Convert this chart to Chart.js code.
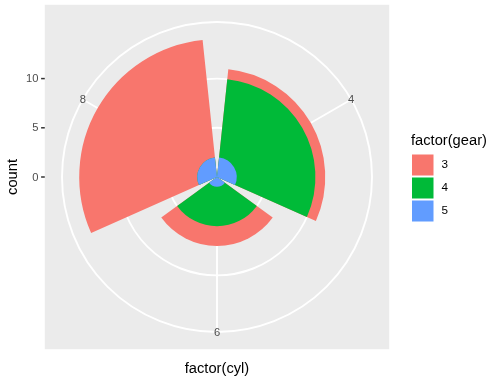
<!DOCTYPE html>
<html>
<head>
<meta charset="utf-8">
<script src="https://cdn.jsdelivr.net/npm/chart.js@4/dist/chart.umd.min.js"></script>
<style>
  html, body { margin: 0; padding: 0; background: #FFFFFF; }
  #c { display: block; }
</style>
</head>
<body>
<canvas id="c" width="491" height="381"></canvas>
<script>
// ---------- data ----------
const categories = ['4', '6', '8'];          // factor(cyl)
const gearLabels = ['3', '4', '5'];          // factor(gear)
const gear3 = [1, 2, 12];
const gear4 = [8, 4, 0];
const gear5 = [2, 1, 2];
const rTickValues = [0, 5, 10];              // count axis ticks
const xTitle = 'factor(cyl)';
const yTitle = 'count';
const legendTitle = 'factor(gear)';

// ---------- styling ----------
const gearColors = ['#F8766D', '#00BA38', '#619CFF'];
const FONT = '"Liberation Sans", Arial, Helvetica, sans-serif';
const barWidth = 0.9;           // ggplot default bar width
const gridColor = '#FFFFFF';
const gridWidth = 1.9;

// stacked radii (gear 3 outermost, as ggplot stacks)
const cum5 = gear5.slice();
const cum4 = gear5.map((v, i) => v + gear4[i]);
const cum3 = cum4.map((v, i) => v + gear3[i]);
const rDataMax = Math.max(...cum3);
const rOuter = rDataMax * 0.45 / 0.4;   // ggplot outer circle at 0.45 vs data at 0.4

const sector = 360 / categories.length;
const barAngle = sector * barWidth;
const gapAngle = (sector - barAngle) / 2;

// each category -> [gap, bar, gap]
function expand(vals) {
  const out = [];
  vals.forEach(v => { out.push(0, v, 0); });
  return out;
}
const elemAngles = [];
categories.forEach(() => { elemAngles.push(gapAngle, barAngle, gapAngle); });

function makeDataset(vals, color) {
  return {
    data: expand(vals),
    rAxisID: 'r',
    angle: (ctx) => elemAngles[ctx.dataIndex],
    backgroundColor: (ctx) => (ctx.dataIndex % 3 === 1 ? color : 'rgba(0,0,0,0)'),
    borderWidth: 0,
    hoverBorderWidth: 0
  };
}

const ggPlugin = {
  id: 'ggDecor',
  beforeDraw(chart) {
    const ctx = chart.ctx;
    const s = chart.scales.rGrid;
    const half = s.drawingArea / 0.9;
    ctx.save();
    ctx.fillStyle = '#FFFFFF';
    ctx.fillRect(0, 0, chart.width, chart.height);
    ctx.fillStyle = '#EBEBEB';
    ctx.fillRect(s.xCenter - half, s.yCenter - half, 2 * half, 2 * half);
    ctx.restore();
  },
  afterDraw(chart) {
    const ctx = chart.ctx;
    const s = chart.scales.rGrid;
    const half = s.drawingArea / 0.9;
    const panelLeft = s.xCenter - half;
    const panelBottom = s.yCenter + half;
    ctx.save();

    // theta labels on the outer circle
    ctx.font = '11.2px ' + FONT;
    ctx.fillStyle = '#4D4D4D';
    ctx.textAlign = 'center';
    ctx.textBaseline = 'middle';
    categories.forEach((lab, i) => {
      const p = s.getPointPosition(i, s.drawingArea);
      ctx.fillText(lab, p.x, p.y + 0.5);
    });

    // r axis ticks + labels on the left
    const tickLen = 3.67;
    ctx.strokeStyle = '#333333';
    ctx.lineWidth = 1.5;
    ctx.textAlign = 'right';
    rTickValues.forEach(v => {
      const y = s.yCenter - s.getDistanceFromCenterForValue(v);
      ctx.beginPath();
      ctx.moveTo(panelLeft - tickLen, y);
      ctx.lineTo(panelLeft, y);
      ctx.stroke();
      ctx.fillText(String(v), panelLeft - tickLen - 2.6, y + 0.5);
    });

    // axis titles
    ctx.fillStyle = '#000000';
    ctx.font = '14.7px ' + FONT;
    ctx.textAlign = 'center';
    ctx.textBaseline = 'middle';
    ctx.fillText(xTitle, s.xCenter, panelBottom + 19.5);
    ctx.save();
    ctx.translate(13, s.yCenter);
    ctx.rotate(-Math.PI / 2);
    ctx.fillText(yTitle, 0, 0);
    ctx.restore();

    // legend
    const lx = 411;
    ctx.textAlign = 'left';
    ctx.fillText(legendTitle, lx, 141);
    const key = 23;
    const top0 = 153.5;
    ctx.font = '11.7px ' + FONT;
    gearLabels.forEach((lab, i) => {
      const y = top0 + i * key;
      ctx.fillStyle = gearColors[i];
      ctx.fillRect(lx + 1, y + 1, key - 1.5, key - 2);
      ctx.fillStyle = '#000000';
      ctx.fillText(lab, lx + key + 7.5, y + key / 2);
    });
    ctx.restore();
  }
};

new Chart(document.getElementById('c'), {
  type: 'polarArea',
  data: {
    labels: categories,
    datasets: [
      makeDataset(cum5, gearColors[2]),
      makeDataset(cum4, gearColors[1]),
      makeDataset(cum3, gearColors[0])
    ]
  },
  options: {
    responsive: false,
    animation: false,
    devicePixelRatio: 1,
    events: [],
    layout: { padding: { left: 62, top: 22, right: 119, bottom: 49 } },
    plugins: {
      legend: { display: false },
      tooltip: { enabled: false },
      title: { display: false }
    },
    scales: {
      r: {
        type: 'radialLinear',
        display: false,
        min: 0,
        max: rOuter,
        startAngle: 0,
        ticks: { display: false },
        pointLabels: { display: false }
      },
      rGrid: {
        type: 'radialLinear',
        axis: 'r',
        min: 0,
        max: rOuter,
        startAngle: sector / 2,
        afterBuildTicks: (scale) => {
          scale.ticks = rTickValues.concat([rOuter]).map(v => ({ value: v }));
        },
        ticks: { display: false },
        pointLabels: { display: false },
        grid: { circular: true, color: gridColor, lineWidth: gridWidth },
        angleLines: { display: true, color: gridColor, lineWidth: gridWidth }
      }
    }
  },
  plugins: [ggPlugin]
});
</script>
</body>
</html>
